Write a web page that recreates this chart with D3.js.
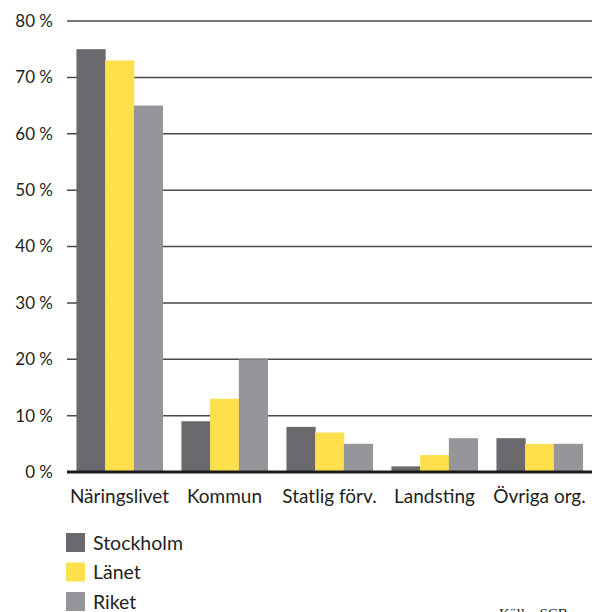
<!DOCTYPE html>
<html>
<head>
<meta charset="utf-8">
<script src="https://cdn.jsdelivr.net/npm/d3@7"></script>
<style>
  body { margin: 0; background: #fff; }
  svg text { font-family: Lato, "Open Sans", sans-serif; fill: #231f20; }
</style>
</head>
<body>
<div id="chart"></div>
<script>
// Sektorer och andelar (procent)
const categories = ['Näringslivet', 'Kommun', 'Statlig förv.', 'Landsting', 'Övriga org.'];
const seriesNames = ['Stockholm', 'Länet', 'Riket'];
const stockholm = [75, 9, 8, 1, 6];
const lanet = [73, 13, 7, 3, 5];
const riket = [65, 20, 5, 6, 5];
const yTicks = [0, 10, 20, 30, 40, 50, 60, 70, 80];
const colors = ['#6a6a6e', '#fee04c', '#96969a'];

const width = 592, height = 612;

const svg = d3.select('#chart')
  .append('svg')
  .attr('width', width)
  .attr('height', height);

const x = d3.scaleBand()
  .domain(categories)
  .range([67, 592])
  .paddingInner(0.18)
  .paddingOuter(0.09);

const xSub = d3.scaleBand()
  .domain(seriesNames)
  .range([0, x.bandwidth()]);

const y = d3.scaleLinear()
  .domain([0, 80])
  .range([472, 21]);

// Gridlines
svg.append('g')
  .selectAll('line')
  .data(yTicks.filter(d => d > 0))
  .enter().append('line')
  .attr('x1', 67)
  .attr('x2', width)
  .attr('y1', d => y(d))
  .attr('y2', d => y(d))
  .attr('stroke', '#4a4a4a')
  .attr('stroke-width', 1.5);

// Y labels
svg.append('g')
  .selectAll('text')
  .data(yTicks)
  .enter().append('text')
  .attr('x', 53)
  .attr('y', d => y(d))
  .attr('dy', '0.35em')
  .attr('text-anchor', 'end')
  .attr('font-size', '17px')
  .text(d => d + ' %');

// Bars
const table = categories.map((c, i) => ({
  category: c,
  values: [stockholm[i], lanet[i], riket[i]]
}));

const group = svg.append('g')
  .selectAll('g')
  .data(table)
  .enter().append('g')
  .attr('transform', d => `translate(${x(d.category)},0)`);

group.selectAll('rect')
  .data(d => d.values.map((v, j) => ({ name: seriesNames[j], value: v, color: colors[j] })))
  .enter().append('rect')
  .attr('x', d => xSub(d.name))
  .attr('width', xSub.bandwidth() + 0.5)
  .attr('y', d => y(d.value))
  .attr('height', d => y(0) - y(d.value))
  .attr('fill', d => d.color);

// Baseline
svg.append('line')
  .attr('x1', 67)
  .attr('x2', width)
  .attr('y1', y(0))
  .attr('y2', y(0))
  .attr('stroke', '#1a1a1a')
  .attr('stroke-width', 3);

// X labels
svg.append('g')
  .selectAll('text')
  .data(categories)
  .enter().append('text')
  .attr('x', d => x(d) + x.bandwidth() / 2)
  .attr('y', 503)
  .attr('text-anchor', 'middle')
  .attr('font-size', '19px')
  .text(d => d);

// Legend
const legend = svg.append('g')
  .selectAll('g')
  .data(seriesNames)
  .enter().append('g')
  .attr('transform', (d, i) => `translate(66,${533 + i * 29.5})`);

legend.append('rect')
  .attr('width', 19)
  .attr('height', 19)
  .attr('fill', (d, i) => colors[i]);

legend.append('text')
  .attr('x', 27)
  .attr('y', 10)
  .attr('dy', '0.35em')
  .attr('font-size', '19.5px')
  .text(d => d);

// Source
svg.append('text')
  .attr('x', 499)
  .attr('y', 619)
  .attr('font-size', '15px')
  .style('font-family', '"Liberation Serif", serif')
  .text('Källa: SCB');
</script>
</body>
</html>
